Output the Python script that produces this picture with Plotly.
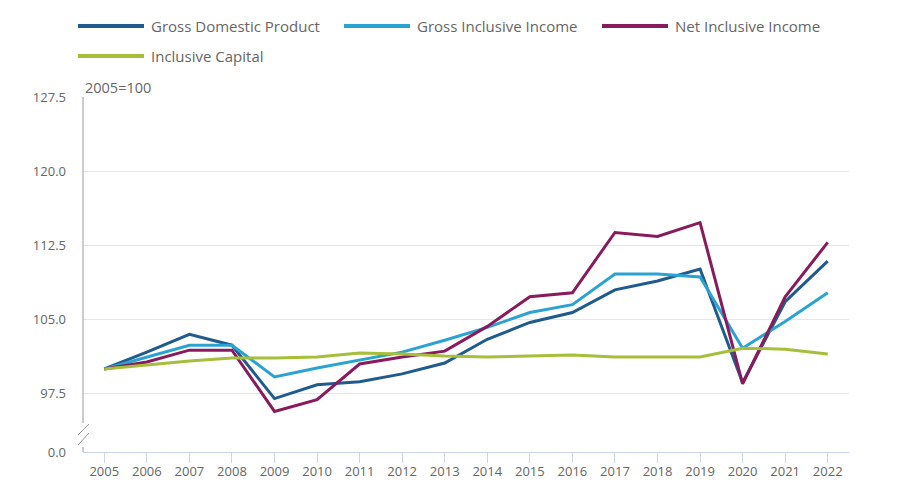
import plotly.graph_objects as go

# Index values, 2005 = 100
years = list(range(2005, 2023))
gdp = [100.0, 101.7, 103.5, 102.4, 97.0, 98.4, 98.7, 99.5, 100.6, 103.0,
       104.7, 105.7, 108.0, 108.9, 110.1, 98.6, 106.8, 110.9]
gii = [100.0, 101.2, 102.4, 102.4, 99.2, 100.1, 100.9, 101.7, 102.9, 104.2,
       105.7, 106.5, 109.6, 109.6, 109.3, 102.1, 104.8, 107.7]
nii = [100.0, 100.7, 101.9, 101.9, 95.7, 96.9, 100.5, 101.2, 101.8, 104.3,
       107.3, 107.7, 113.8, 113.4, 114.8, 98.5, 107.3, 112.8]
ic = [100.0, 100.4, 100.8, 101.1, 101.1, 101.2, 101.6, 101.5, 101.3, 101.2,
      101.3, 101.4, 101.2, 101.2, 101.2, 102.1, 102.0, 101.5]

series_names = ["Gross Domestic Product", "Gross Inclusive Income",
                "Net Inclusive Income", "Inclusive Capital"]
series_colors = ["#1f5b8c", "#2aa3d2", "#891b5d", "#a6bf3a"]

# broken axis: 0.0 drawn just below 97.5
y_tick_vals = [91.6, 97.5, 105.0, 112.5, 120.0, 127.5]
y_tick_text = ["0.0", "97.5", "105.0", "112.5", "120.0", "127.5"]

text_color = "#666666"

# page body has an 8px margin, so the figure is sized / placed to compensate
OFF = 8
W, H = 897 - OFF, 494 - OFF
L, R, T, B = 83 - OFF, 48, 97 - OFF, 42


def px_x(p):
    # screen x pixel -> paper coordinate
    return (p - OFF - L) / (W - L - R)


def px_y(p):
    # screen y pixel -> paper coordinate
    return (H - B - (p - OFF)) / (H - T - B)


fig = go.Figure()

for name, vals, col in zip(series_names, [gdp, gii, nii, ic], series_colors):
    fig.add_trace(go.Scatter(
        x=years, y=vals, mode="lines", name=name,
        line=dict(color=col, width=3),
        showlegend=False,
    ))

shapes = []
annotations = []

# legend drawn by hand (long line symbols)
legend_pos = [(78, 26), (344, 26), (602, 26), (78, 56)]
for (lx, ly), name, col in zip(legend_pos, series_names, series_colors):
    shapes.append(dict(type="line", xref="paper", yref="paper",
                       x0=px_x(lx), x1=px_x(lx + 66), y0=px_y(ly), y1=px_y(ly),
                       line=dict(color=col, width=4)))
    annotations.append(dict(x=px_x(lx + 71), y=px_y(ly), xref="paper", yref="paper",
                            text=name, showarrow=False, xanchor="left", yanchor="middle",
                            font=dict(size=15, color=text_color)))

annotations.append(dict(x=px_x(83), y=px_y(87), xref="paper", yref="paper",
                        text="2005=100", showarrow=False, xanchor="left", yanchor="middle",
                        font=dict(size=14.5, color=text_color)))

# y axis line with break marks
axis_gray = "#999999"
shapes.append(dict(type="line", xref="paper", yref="paper", x0=0, x1=0,
                   y0=px_y(97), y1=px_y(423), line=dict(color=axis_gray, width=1)))
shapes.append(dict(type="line", xref="paper", yref="paper", x0=0, x1=0,
                   y0=px_y(447), y1=px_y(452), line=dict(color=axis_gray, width=1)))
for y_top, y_bot in [(424, 435), (433, 445)]:
    shapes.append(dict(type="line", xref="paper", yref="paper",
                       x0=px_x(78), x1=px_x(89), y0=px_y(y_bot), y1=px_y(y_top),
                       line=dict(color=axis_gray, width=1)))

fig.update_layout(
    width=W, height=H,
    margin=dict(l=L, r=R, t=T, b=B),
    paper_bgcolor="white",
    plot_bgcolor="white",
    font=dict(family="Open Sans", color=text_color, size=13),
    shapes=shapes,
    annotations=annotations,
    showlegend=False,
)

fig.update_xaxes(
    range=[2004.5, 2022.5],
    tickvals=years,
    showgrid=False,
    zeroline=False,
    showline=True,
    linecolor="#ccd6eb",
    linewidth=1,
    ticks="outside",
    ticklen=10,
    tickcolor="#ccd6eb",
    ticklabelstandoff=-3,
    tickfont=dict(size=13, color=text_color),
)
fig.update_yaxes(
    range=[91.6, 127.5],
    tickvals=y_tick_vals,
    ticktext=y_tick_text,
    showgrid=True,
    gridcolor="#e6e6e6",
    zeroline=False,
    showline=False,
    ticks="",
    ticklabelstandoff=16,
    tickfont=dict(size=13, color=text_color),
)

fig.write_html("out.html")
